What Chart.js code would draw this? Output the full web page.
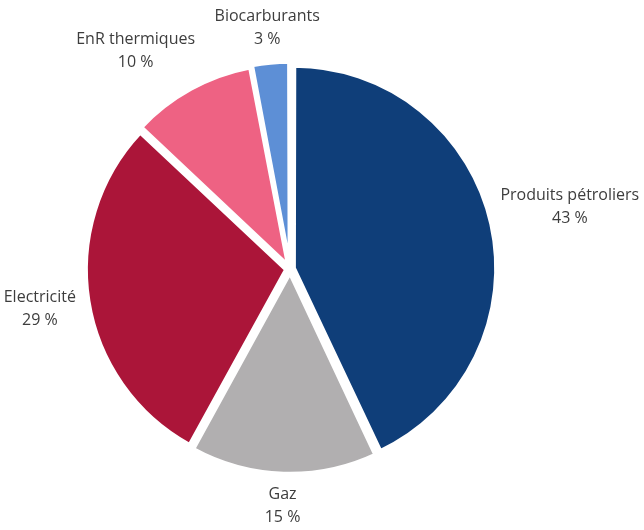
<!DOCTYPE html>
<html>
<head>
<meta charset="utf-8">
<script src="https://cdn.jsdelivr.net/npm/chart.js@4.4.0/dist/chart.umd.min.js"></script>
<style>
  html, body { margin: 0; padding: 0; background: #fff; }
  #wrap { width: 644px; height: 530px; }
</style>
</head>
<body>
<div id="wrap"><canvas id="energyPie"></canvas></div>
<script>
const categories = ['Produits pétroliers', 'Gaz', 'Electricité', 'EnR thermiques', 'Biocarburants'];
const shares = [43, 15, 29, 10, 3];
const sliceColors = ['#0f3e79', '#b1afb0', '#ab1539', '#ee6283', '#5d8fd6'];

const labelFont = '16px "Open Sans"';
const lineHeight = 23;

// labels outside the pie, pushed along the circle when they collide
const outsideLabels = {
  id: 'outsideLabels',
  afterDatasetsDraw(chart) {
    const ctx = chart.ctx;
    const arcs = chart.getDatasetMeta(0).data;
    ctx.save();
    ctx.font = labelFont;
    ctx.fillStyle = '#3d3d3d';
    ctx.textAlign = 'center';
    ctx.textBaseline = 'middle';
    const boxes = [];
    for (let i = arcs.length - 1; i >= 0; i--) {
      const a = arcs[i];
      const lines = [categories[i], shares[i] + ' %'];
      const w = Math.max(...lines.map(t => ctx.measureText(t).width));
      const h = lines.length * lineHeight;
      let ang = (a.startAngle + a.endAngle) / 2;
      let box;
      for (let k = 0; k < 90; k++) {
        const c = Math.cos(ang), s = Math.sin(ang);
        const ext = Math.abs(c) * w / 2 + Math.abs(s) * h / 2;
        const d = a.outerRadius + 14 + ext;
        box = { x: a.x + c * d, y: a.y + s * d, w, h };
        const hit = boxes.some(b => Math.abs(b.x - box.x) < (b.w + box.w) / 2 + 18 &&
                                    Math.abs(b.y - box.y) < (b.h + box.h) / 2);
        if (!hit) break;
        ang -= Math.PI / 360;
      }
      boxes.push(box);
      lines.forEach((t, j) => ctx.fillText(t, box.x, box.y - h / 2 + lineHeight * (j + 0.5)));
    }
    ctx.restore();
  }
};

new Chart(document.getElementById('energyPie'), {
  type: 'pie',
  data: {
    labels: categories,
    datasets: [{
      data: shares,
      backgroundColor: sliceColors,
      borderColor: '#ffffff',
      borderWidth: 4,
      offset: 16,
      radius: 200
    }]
  },
  options: {
    responsive: true,
    maintainAspectRatio: false,
    animation: false,
    layout: { padding: { left: 20, right: 84, top: 22, bottom: 14 } },
    plugins: {
      legend: { display: false },
      tooltip: { enabled: false }
    }
  },
  plugins: [outsideLabels]
});
</script>
</body>
</html>
